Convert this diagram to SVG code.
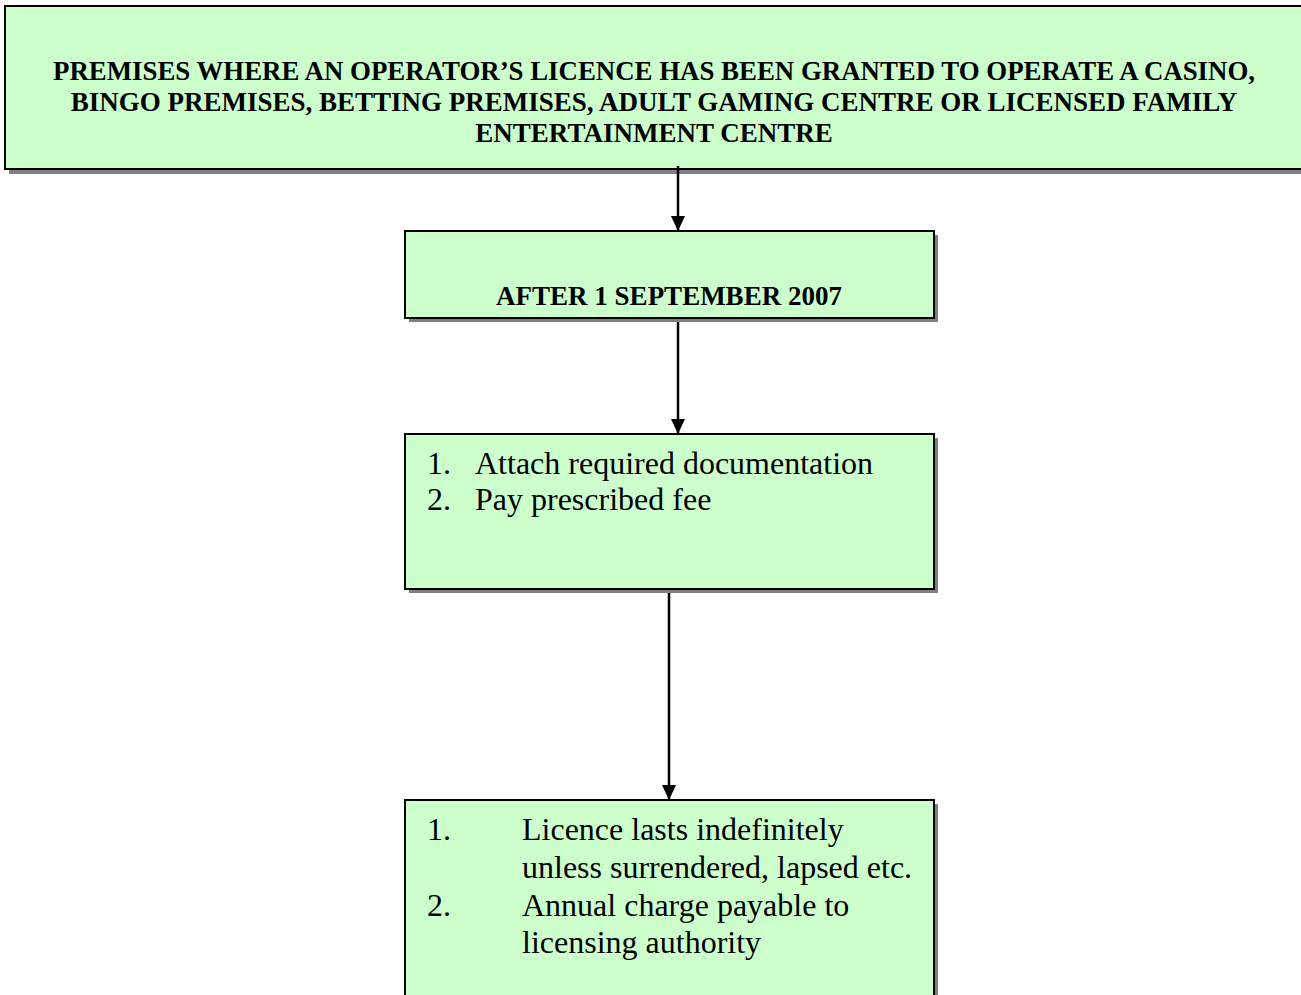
<svg xmlns="http://www.w3.org/2000/svg" width="1301" height="995" viewBox="0 0 1301 995">
<style>
.box{fill:#ccffcc;stroke:#000;stroke-width:2}
.sh{fill:#808080}
.b{font-family:"Liberation Serif","Times New Roman",serif;font-weight:bold;font-size:27px;fill:#000}
.r{font-family:"Liberation Serif","Times New Roman",serif;font-size:32px;fill:#000}
.c{stroke:#000;stroke-width:2.5;fill:none}
</style>
<defs>
<marker id="ah" markerWidth="16" markerHeight="16" refX="15" refY="7" orient="auto" markerUnits="userSpaceOnUse">
<path d="M0,0 L15,7 L0,14 Z" fill="#000"/>
</marker>
</defs>
<g id="n1">
<rect class="sh" x="9" y="10" width="1300" height="164"/>
<rect class="box" x="5" y="6" width="1300" height="163"/>
<text class="b" x="654" y="80" text-anchor="middle" textLength="1202" lengthAdjust="spacingAndGlyphs">PREMISES WHERE AN OPERATOR’S LICENCE HAS BEEN GRANTED TO OPERATE A CASINO,</text>
<text class="b" x="654" y="111" text-anchor="middle">BINGO PREMISES, BETTING PREMISES, ADULT GAMING CENTRE OR LICENSED FAMILY</text>
<text class="b" x="654" y="142" text-anchor="middle">ENTERTAINMENT CENTRE</text>
</g>
<g id="connectors">
<line class="c" x1="678" y1="166" x2="678" y2="231" marker-end="url(#ah)"/>
<line class="c" x1="678" y1="318" x2="678" y2="434" marker-end="url(#ah)"/>
<line class="c" x1="669" y1="589" x2="669" y2="800" marker-end="url(#ah)"/>
</g>
<g id="n2">
<rect class="sh" x="409" y="235" width="529" height="87"/>
<rect class="box" x="405" y="231" width="529" height="87"/>
<text class="b" x="669" y="305" text-anchor="middle">AFTER 1 SEPTEMBER 2007</text>
</g>
<g id="n3">
<rect class="sh" x="409" y="438" width="529" height="155"/>
<rect class="box" x="405" y="434" width="529" height="155"/>
<text class="r" x="427" y="474">1.</text>
<text class="r" x="475" y="474">Attach required documentation</text>
<text class="r" x="427" y="510">2.</text>
<text class="r" x="475" y="510">Pay prescribed fee</text>
</g>
<g id="n4">
<rect class="sh" x="409" y="804" width="529" height="200"/>
<rect class="box" x="405" y="800" width="529" height="200"/>
<text class="r" x="427" y="840">1.</text>
<text class="r" x="522" y="840">Licence lasts indefinitely</text>
<text class="r" x="522" y="878">unless surrendered, lapsed etc.</text>
<text class="r" x="427" y="916">2.</text>
<text class="r" x="522" y="916">Annual charge payable to</text>
<text class="r" x="522" y="953">licensing authority</text>
</g>
</svg>
